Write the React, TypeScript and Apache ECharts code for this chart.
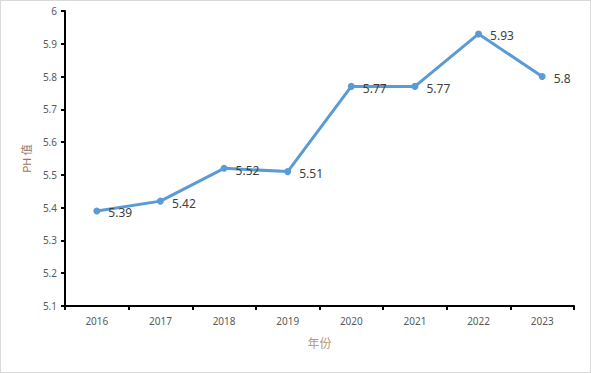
import React, { useEffect, useRef } from "react";
import * as echarts from "echarts";

const years = ["2016", "2017", "2018", "2019", "2020", "2021", "2022", "2023"];
const phValues = [5.39, 5.42, 5.52, 5.51, 5.77, 5.77, 5.93, 5.8];

export default function App() {
  const ref = useRef<HTMLDivElement>(null);
  useEffect(() => {
    document.body.style.margin = "0";
    const chart = echarts.init(ref.current!, null, { renderer: "svg" });
    chart.setOption({
      animation: false,
      backgroundColor: "#fff",
      grid: { left: 64, right: 16, top: 10, bottom: 66 },
      xAxis: {
        type: "category",
        data: years,
        boundaryGap: true,
        name: "年份",
        nameLocation: "middle",
        nameGap: 30,
        nameTextStyle: { color: "#b8957a", fontSize: 12, fontFamily: "Noto Sans CJK SC" },
        axisLine: { lineStyle: { color: "#000", width: 2 } },
        axisTick: { show: true, length: 4, alignWithLabel: false, lineStyle: { color: "#000", width: 2 } },
        axisLabel: { color: "#595959", fontSize: 10, margin: 10, fontFamily: "Noto Sans" },
        splitLine: { show: false },
      },
      yAxis: {
        type: "value",
        min: 5.1,
        max: 6,
        interval: 0.1,
        name: "PH 值",
        nameLocation: "middle",
        nameGap: 31,
        nameRotate: 90,
        nameTextStyle: { color: "#9a765e", fontSize: 11, fontFamily: "Noto Sans CJK SC" },
        axisLine: { show: true, lineStyle: { color: "#000", width: 2 } },
        axisTick: { show: true, length: 4, lineStyle: { color: "#000", width: 2 } },
        axisLabel: {
          color: "#595959",
          fontSize: 10,
          margin: 8,
          fontFamily: "Noto Sans",
          formatter: (v: number) => String(Math.round(v * 10) / 10),
        },
        splitLine: { show: false },
      },
      series: [
        {
          type: "line",
          data: phValues,
          symbol: "circle",
          symbolSize: 7,
          lineStyle: { color: "#5b9bd5", width: 3 },
          itemStyle: { color: "#5b9bd5" },
          label: {
            show: true,
            position: "right",
            distance: 8,
            offset: [0, 2],
            color: "#404040",
            fontSize: 12,
            fontFamily: "Noto Sans",
          },
        },
      ],
    });
    return () => chart.dispose();
  }, []);
  return (
    <div
      style={{
        position: "absolute",
        left: 0,
        top: 0,
        width: 591,
        height: 373,
        boxSizing: "border-box",
        border: "1px solid #d9d9d9",
        background: "#fff",
      }}
    >
      <div ref={ref} style={{ width: 589, height: 371 }} />
    </div>
  );
}
